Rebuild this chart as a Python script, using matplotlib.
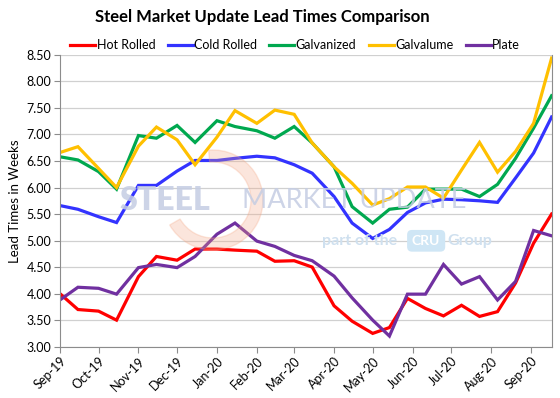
import pandas as pd
import numpy as np
import matplotlib.pyplot as plt
import matplotlib.dates as mdates
from matplotlib.patches import Wedge

# survey dates (semi-monthly until May, then every two weeks)
dates = ['2019-09-01', '2019-09-15', '2019-10-01', '2019-10-15', '2019-11-01', '2019-11-15',
         '2019-12-01', '2019-12-15', '2020-01-01', '2020-01-15', '2020-02-01', '2020-02-15',
         '2020-03-01', '2020-03-15', '2020-04-01', '2020-04-15', '2020-05-01', '2020-05-14',
         '2020-05-28', '2020-06-11', '2020-06-25', '2020-07-09', '2020-07-23', '2020-08-06',
         '2020-08-20', '2020-09-03', '2020-09-17']

hot_rolled = [4.00, 3.70, 3.67, 3.50, 4.32, 4.70, 4.63, 4.84, 4.84, 4.82, 4.80, 4.61, 4.62, 4.50,
              3.77, 3.48, 3.25, 3.36, 3.91, 3.72, 3.58, 3.78, 3.57, 3.66, 4.20, 4.95, 5.50]
cold_rolled = [5.66, 5.59, 5.45, 5.34, 6.04, 6.04, 6.31, 6.51, 6.51, 6.55, 6.59, 6.56, 6.43, 6.27,
               5.83, 5.33, 5.04, 5.21, 5.53, 5.71, 5.78, 5.77, 5.75, 5.72, 6.18, 6.65, 7.33]
galvanized = [6.58, 6.52, 6.30, 5.97, 6.98, 6.93, 7.17, 6.85, 7.26, 7.15, 7.07, 6.93, 7.15, 6.84,
              6.39, 5.64, 5.33, 5.59, 5.63, 5.97, 5.97, 5.97, 5.83, 6.06, 6.55, 7.12, 7.73]
galvalume = [6.66, 6.77, 6.36, 6.00, 6.78, 7.14, 6.90, 6.43, 6.95, 7.45, 7.21, 7.46, 7.38, 6.84,
             6.39, 6.08, 5.67, 5.79, 6.01, 6.01, 5.80, 6.33, 6.85, 6.29, 6.68, 7.21, 8.44]
plate = [3.88, 4.12, 4.10, 3.99, 4.49, 4.55, 4.49, 4.70, 5.12, 5.33, 4.99, 4.89, 4.72, 4.62,
         4.33, 3.92, 3.50, 3.20, 3.99, 3.99, 4.55, 4.18, 4.32, 3.88, 4.23, 5.19, 5.09]

month_ticks = pd.date_range('2019-09-01', '2020-09-01', freq='MS')

x = pd.to_datetime(dates)
df = pd.DataFrame({'Hot Rolled': hot_rolled, 'Cold Rolled': cold_rolled,
                   'Galvanized': galvanized, 'Galvalume': galvalume, 'Plate': plate}, index=x)
colors = {'Hot Rolled': '#ff0000', 'Cold Rolled': '#3333ff', 'Galvanized': '#00a84f',
          'Galvalume': '#ffc000', 'Plate': '#7030a0'}

plt.rcParams['font.family'] = ['Lato', 'DejaVu Sans']

fig = plt.figure(figsize=(5.6, 3.98), dpi=100)
ax = fig.add_axes([0.107, 0.129, 0.878, 0.733])

# watermark (logo arc + text)
fig.patches.append(Wedge((2.13, 1.98), 0.5, -150, 95, width=0.12,
                         transform=fig.dpi_scale_trans, color='#f4a582', alpha=0.28, zorder=0))
fig.text(0.213, 0.497, 'STEEL', fontsize=23, fontweight='heavy', color='#c5cde3', alpha=0.85,
         va='center', zorder=1)
fig.text(0.432, 0.497, 'MARKET UPDATE', fontsize=19.5, color='#c5cde3', alpha=0.85,
         va='center', zorder=1)
fig.text(0.575, 0.395, 'part of the', fontsize=11.5, fontweight='bold', color='#cfe0ef',
         va='center', zorder=1)
fig.text(0.761, 0.395, 'CRU', fontsize=10, fontweight='bold', color='white', va='center',
         ha='center', zorder=2,
         bbox=dict(boxstyle='round,pad=0.35', fc='#cfe6f5', ec='none'))
fig.text(0.798, 0.395, 'Group', fontsize=11.5, fontweight='bold', color='#cfe0ef',
         va='center', zorder=1)
ax.patch.set_alpha(0)

for col in df.columns:
    ax.plot(df.index, df[col], color=colors[col], lw=2.3, label=col, solid_joinstyle='miter')

ax.set_ylim(3.0, 8.5)
ax.set_yticks(np.arange(3.0, 8.51, 0.5))
ax.set_yticklabels(['%.2f' % v for v in np.arange(3.0, 8.51, 0.5)], fontsize=9)
ax.set_xlim(x[0], x[-1])
ax.set_xticks(month_ticks)
ax.xaxis.set_major_formatter(mdates.DateFormatter('%b-%y'))
plt.setp(ax.get_xticklabels(), rotation=45, ha='right', rotation_mode='anchor', fontsize=9)
ax.grid(axis='y', color='#d0d0d0', lw=0.9)
ax.set_axisbelow(True)
for s in ['left', 'bottom', 'right']:
    ax.spines[s].set_color('#8c8c8c')
ax.spines['top'].set_visible(False)
ax.tick_params(axis='both', length=4, color='#8c8c8c', pad=2)
ax.set_ylabel('Lead Times in Weeks', fontsize=9.5, labelpad=4)

fig.text(0.468, 0.957, 'Steel Market Update Lead Times Comparison', ha='center', va='center',
         fontsize=12, fontweight='bold')
fig.legend(loc='center', bbox_to_anchor=(0.527, 0.887), ncol=5, frameon=False, fontsize=9,
           handlelength=2.0, handletextpad=0.1, columnspacing=1.0)

plt.savefig('out.png', dpi=100)
